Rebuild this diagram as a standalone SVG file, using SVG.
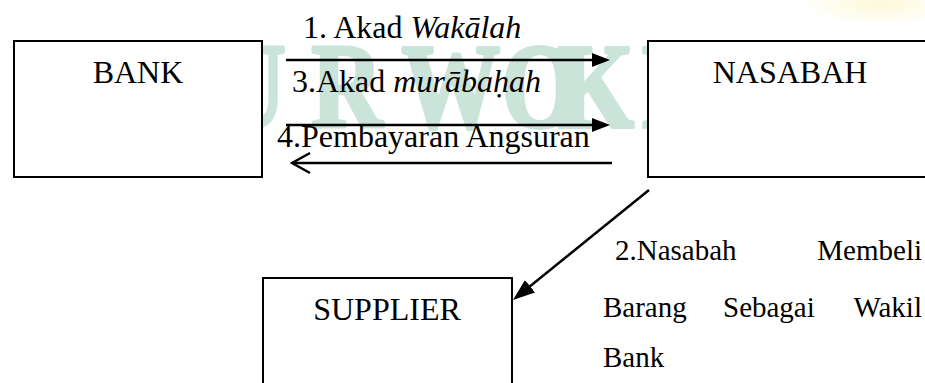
<svg xmlns="http://www.w3.org/2000/svg" width="925" height="383" viewBox="0 0 925 383">
  <style>
    .box { fill: #ffffff; stroke: #000000; stroke-width: 2; }
    .lbl { font-family: "Liberation Serif", "Times New Roman", serif; font-size: 32px; fill: #000000; }
    .note { font-family: "Liberation Serif", "Times New Roman", serif; font-size: 29px; fill: #000000; }
    .it { font-style: italic; }
    .wm { font-family: "Liberation Serif", "Times New Roman", serif; font-size: 120px; font-weight: bold; fill: #cbe4d9; stroke: #cbe4d9; stroke-width: 4; stroke-linejoin: round; }
    .conn { stroke: #000000; stroke-width: 2.5; fill: none; }
  </style>
  <defs>
    <radialGradient id="glow" cx="0.5" cy="0.5" r="0.5">
      <stop offset="0" stop-color="#fdf8d4" stop-opacity="0.9"/>
      <stop offset="1" stop-color="#fdf8d4" stop-opacity="0"/>
    </radialGradient>
    <marker id="head" viewBox="0 -7 18 14" markerWidth="18" markerHeight="14" refX="2" refY="0" orient="auto" markerUnits="userSpaceOnUse">
      <path d="M0,-7 L18,0 L0,7 z" fill="#000000"/>
    </marker>
    <marker id="headL" viewBox="0 -8 22 16" markerWidth="22" markerHeight="16" refX="2" refY="0" orient="auto" markerUnits="userSpaceOnUse">
      <path d="M0,-8 L22,0 L0,8 z" fill="#000000"/>
    </marker>
    <marker id="open" viewBox="-21 -12 23 24" markerWidth="23" markerHeight="24" refX="0" refY="0" orient="auto" markerUnits="userSpaceOnUse">
      <path d="M-18,-10 L0,0 L-18,10" fill="none" stroke="#000000" stroke-width="2.5"/>
    </marker>
  </defs>

  <rect width="925" height="383" fill="#ffffff"/>
  <ellipse cx="880" cy="4" rx="80" ry="22" fill="url(#glow)"/>

  <g id="watermark">
    <text class="wm" transform="scale(0.82 1)" y="127"><tspan x="262">U</tspan><tspan x="380">R</tspan><tspan x="490">W</tspan><tspan x="612">O</tspan><tspan x="680">K</tspan><tspan x="783">E</tspan></text>
  </g>

  <g id="bank">
    <rect class="box" x="14" y="41" width="248" height="136"/>
    <text class="lbl" x="138" y="83" text-anchor="middle">BANK</text>
  </g>

  <g id="nasabah">
    <rect class="box" x="648" y="41" width="290" height="136"/>
    <text class="lbl" x="790" y="83" text-anchor="middle">NASABAH</text>
  </g>

  <g id="supplier">
    <rect class="box" x="263" y="278" width="249" height="120"/>
    <text class="lbl" x="387" y="320" text-anchor="middle">SUPPLIER</text>
  </g>

  <g id="connectors">
    <line class="conn" x1="286" y1="60" x2="594" y2="60" marker-end="url(#head)"/>
    <line class="conn" x1="286" y1="125" x2="594" y2="125" marker-end="url(#head)"/>
    <line class="conn" x1="612" y1="163" x2="292" y2="163" marker-end="url(#open)"/>
    <line class="conn" x1="649" y1="190" x2="528.5" y2="287.5" marker-end="url(#headL)"/>
  </g>

  <g id="labels">
    <text class="lbl" x="303" y="38">1. Akad <tspan class="it">Wakālah</tspan></text>
    <text class="lbl" x="292" y="92">3.Akad <tspan class="it">murābaḥah</tspan></text>
    <text class="lbl" x="277" y="147">4.Pembayaran Angsuran</text>
    <text class="note" x="615" y="260">2.Nasabah</text>
    <text class="note" x="922" y="260" text-anchor="end">Membeli</text>
    <text class="note" x="603" y="317">Barang</text>
    <text class="note" x="723" y="317">Sebagai</text>
    <text class="note" x="922" y="317" text-anchor="end">Wakil</text>
    <text class="note" x="603" y="367">Bank</text>
  </g>
</svg>
